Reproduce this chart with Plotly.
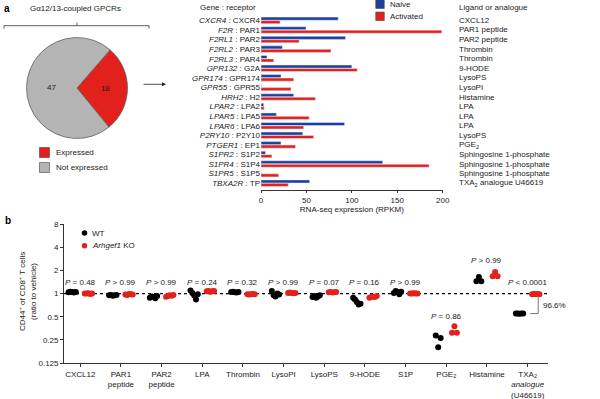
import numpy as np
import plotly.graph_objects as go

W, H = 600, 399
FONT = "Liberation Sans, Arial, sans-serif"
TXT = "#1a1a1a"
BLUE = "#1c3f9e"
RED = "#e3211c"
GREY = "#b4b4b4"

# ---------------- Panel a : pie ----------------
pie_labels = ["Expressed", "Not expressed"]
pie_values = [18, 47]

# ---------------- Panel a : bars ----------------
genes = ["CXCR4", "F2R", "F2RL1", "F2RL2", "F2RL3", "GPR132", "GPR174", "GPR55", "HRH2",
         "LPAR2", "LPAR5", "LPAR6", "P2RY10", "PTGER1", "S1PR2", "S1PR4", "S1PR5", "TBXA2R"]
receptors = ["CXCR4", "PAR1", "PAR2", "PAR3", "PAR4", "G2A", "GPR174", "GPR55", "H2",
             "LPA2", "LPA5", "LPA6", "P2Y10", "EP1", "S1P2", "S1P4", "S1P5", "TP"]
ligands = ["CXCL12", "PAR1 peptide", "PAR2 peptide", "Thrombin", "Thrombin", "9-HODE",
           "LysoPS", "LysoPI", "Histamine", "LPA", "LPA", "LPA", "LysoPS", "PGE<sub>2</sub>",
           "Sphingosine 1-phosphate", "Sphingosine 1-phosphate", "Sphingosine 1-phosphate",
           "TXA<sub>2</sub> analogue U46619"]
series_names = ["Naive", "Activated"]
naive = [85, 49.5, 93, 23.5, 6.6, 100, 22, 0.3, 36, 3, 17, 92, 46, 22, 5, 134, 0.3, 53.6]
activated = [21, 199, 42, 77, 14, 106, 36, 33, 60, 3.5, 53, 47, 58, 38, 12, 185, 19.5, 30]
bar_ticks = [0, 50, 100, 150, 200]

# ---------------- Panel b : dot plot ----------------
group_names = ["WT", "<i>Arhgef1</i> KO"]
b_cats = ["CXCL12", "PAR1<br>peptide", "PAR2<br>peptide", "LPA", "Thrombin", "LysoPI",
          "LysoPS", "9-HODE", "S1P", "PGE<sub>2</sub>", "Histamine",
          "TXA<sub>2</sub><br><i>analogue</i><br>(U46619)"]
p_text = ["= 0.48", "> 0.99", "> 0.99", "= 0.24", "= 0.32", "> 0.99", "= 0.07", "= 0.16",
          "> 0.99", "= 0.86", "> 0.99", "< 0.0001"]
p_pos = [1.41, 1.41, 1.41, 1.41, 1.41, 1.41, 1.41, 1.41, 1.41, 0.506, 2.72, 1.41]
wt_vals = [
    [1.04, 1.06, 1.05, 1.03, 1.05],
    [0.95, 0.96, 0.94, 0.95, 0.96],
    [0.88, 0.92, 0.90, 0.87, 0.93],
    [1.10, 1.02, 0.95, 0.84, 0.98],
    [1.05, 1.06, 1.04, 1.03, 1.05],
    [1.08, 0.95, 0.92, 1.00, 0.97],
    [0.90, 0.93, 0.88, 0.92, 0.95],
    [0.88, 0.84, 0.78, 0.72, 0.74],
    [1.02, 1.08, 1.05, 0.98, 1.06],
    [0.286, 0.20, 0.264],
    [1.45, 1.64, 1.45],
    [0.55, 0.55, 0.548, 0.55, 0.552],
]
ko_vals = [
    [1.00, 1.00, 1.01, 0.99, 1.00],
    [0.97, 0.96, 0.99, 0.98, 0.97],
    [0.91, 0.93, 0.95, 0.94, 0.96],
    [1.07, 1.08, 1.06, 1.07, 1.08],
    [0.98, 0.97, 0.98, 0.99, 0.98],
    [1.02, 1.03, 1.02, 1.01, 1.02],
    [1.04, 1.05, 1.03, 1.04, 1.05],
    [0.88, 0.90, 0.92, 0.90, 0.93],
    [1.00, 1.00, 1.01, 1.00, 1.00],
    [0.31, 0.375, 0.31],
    [1.68, 1.91, 1.68],
    [0.98, 0.99, 0.98, 0.99, 0.98],
]
diff_label = "96.6%"
y_ticks = [0.125, 0.25, 0.5, 1, 2, 4, 8]
y_tick_text = ["0.125", "0.25", "0.5", "1", "2", "4", "8"]


def px(x):
    return x / W


def py(y):
    return 1 - y / H


fig = go.Figure()

# pie
fig.add_trace(go.Pie(
    labels=pie_labels, values=pie_values, sort=False, direction="clockwise", rotation=41,
    marker=dict(colors=[RED, GREY], line=dict(color="#555555", width=0.7)),
    textinfo="value", textposition="inside", insidetextorientation="horizontal",
    textfont=dict(size=8, color=TXT, family=FONT),
    domain=dict(x=[px(26.5), px(127.5)], y=[py(138.5), py(37.5)]),
    showlegend=False, hoverinfo="skip",
))

# bars
ycat = ["<i>%s</i> : %s" % (g, r) for g, r in zip(genes, receptors)]
fig.add_trace(go.Bar(x=naive, y=ycat, orientation="h", name=series_names[0], marker_color=BLUE,
                     xaxis="x", yaxis="y", showlegend=False))
fig.add_trace(go.Bar(x=activated, y=ycat, orientation="h", name=series_names[1],
                     marker_color=RED, xaxis="x", yaxis="y", showlegend=False))

# reference line at ratio 1 (vehicle)
fig.add_trace(go.Scatter(x=[-0.4, 11.5], y=[1, 1], mode="lines",
                         line=dict(color="black", width=1.3, dash="dot"),
                         xaxis="x2", yaxis="y2", showlegend=False, hoverinfo="skip"))


# dot plot
def spread(n, centre):
    half = 0.09 if n > 3 else 0.06
    return list(np.linspace(centre - half, centre + half, n))


wx, wy, kx, ky = [], [], [], []
for i, (wv, kv) in enumerate(zip(wt_vals, ko_vals)):
    wx += [i + d for d in spread(len(wv), -0.2)]
    wy += wv
    kx += [i + d for d in spread(len(kv), 0.2)]
    ky += kv

fig.add_trace(go.Scatter(x=wx, y=wy, mode="markers", name=group_names[0],
                         marker=dict(color="black", size=6), xaxis="x2", yaxis="y2",
                         showlegend=False))
fig.add_trace(go.Scatter(x=kx, y=ky, mode="markers", name=group_names[1],
                         marker=dict(color=RED, size=6), xaxis="x2", yaxis="y2",
                         showlegend=False))
# bracket for the TXA2 difference
last = len(b_cats) - 1
wt_last = float(np.mean(wt_vals[last]))
fig.add_trace(go.Scatter(x=[last + 0.26, last + 0.26, last + 0.06],
                         y=[0.9, wt_last, wt_last],
                         mode="lines", line=dict(color="#777777", width=1),
                         xaxis="x2", yaxis="y2", showlegend=False, hoverinfo="skip"))

annotations = []
base = dict(showarrow=False, font=dict(family=FONT, size=8, color=TXT))
# ligand labels
for cat, lig in zip(ycat, ligands):
    annotations.append(dict(base, x=px(457), xref="paper", y=cat, yref="y", text=lig,
                            xanchor="left", yanchor="middle"))
# p-values
for i, (t, yv) in enumerate(zip(p_text, p_pos)):
    annotations.append(dict(base, x=i, xref="x2", y=np.log10(yv), yref="y2",
                            text="<i>P</i> " + t, xanchor="center", yanchor="middle"))
annotations.append(dict(base, x=last + 0.32, xref="x2", y=np.log10(0.69), yref="y2",
                        text=diff_label, xanchor="left", yanchor="middle"))
# titles / panel labels
annotations += [
    dict(base, x=px(2), y=py(8), xref="paper", yref="paper", text="<b>a</b>",
         xanchor="left", yanchor="middle", font=dict(family=FONT, size=10, color="black")),
    dict(base, x=px(3), y=py(220), xref="paper", yref="paper", text="<b>b</b>",
         xanchor="left", yanchor="middle", font=dict(family=FONT, size=10, color="black")),
    dict(base, x=px(75), y=py(9), xref="paper", yref="paper", text="Gα12/13-coupled GPCRs",
         xanchor="center", yanchor="middle"),
    dict(base, x=px(197.5), y=py(7.3), xref="paper", yref="paper", text="Gene : receptor",
         xanchor="left", yanchor="middle"),
    dict(base, x=px(457), y=py(7.3), xref="paper", yref="paper", text="Ligand or analogue",
         xanchor="left", yanchor="middle"),
    dict(base, x=px(27), y=py(292), xref="paper", yref="paper",
         text="CD44<sup>+</sup> of CD8<sup>+</sup> T cells<br>(ratio to vehicle)",
         textangle=-90, xanchor="center", yanchor="middle"),
    dict(x=px(166), y=py(84.3), xref="paper", yref="paper", ax=-24, ay=0, text="",
         showarrow=True, arrowhead=2, arrowsize=1, arrowwidth=0.8, arrowcolor="#222222"),
]

# bracket above the pie
bx0, bx1, bxm, by, byd, byu = px(4), px(149), px(77), py(25.7), py(28.6), py(22.6)
shapes = [
    dict(type="path", xref="paper", yref="paper",
         path=f"M {bx0},{byd} L {bx0},{by} L {bx1},{by} L {bx1},{byd} M {bxm},{by} L {bxm},{byu}",
         line=dict(color="#333333", width=0.8)),
]


# legends (keys)
def square_key(cx, cy, size, colour, label):
    h = size / 2
    shapes.append(dict(type="rect", xref="paper", yref="paper",
                       x0=px(cx - h), x1=px(cx + h), y0=py(cy + h), y1=py(cy - h),
                       fillcolor=colour, line=dict(color="#444444", width=0.6)))
    annotations.append(dict(base, x=px(cx + h + 4), y=py(cy), xref="paper", yref="paper",
                            text=label, xanchor="left", yanchor="middle"))


def dot_key(cx, cy, d, colour, label):
    h = d / 2
    shapes.append(dict(type="circle", xref="paper", yref="paper",
                       x0=px(cx - h), x1=px(cx + h), y0=py(cy + h), y1=py(cy - h),
                       fillcolor=colour, line=dict(width=0)))
    annotations.append(dict(base, x=px(cx + h + 2.5), y=py(cy), xref="paper", yref="paper",
                            text=label, xanchor="left", yanchor="middle"))


square_key(44.5, 152.5, 10, RED, pie_labels[0])
square_key(44.5, 167.5, 10, GREY, pie_labels[1])
square_key(380, 4.2, 8.5, BLUE, series_names[0])
square_key(380, 16.3, 8.5, RED, series_names[1])
dot_key(84.5, 233, 5.5, "black", group_names[0])
dot_key(84.5, 245.7, 5.5, RED, group_names[1])

axis_common = dict(showgrid=False, zeroline=False, color=TXT, automargin=False,
                   ticklabeloverflow="allow",
                   tickfont=dict(family=FONT, size=8, color=TXT))

fig.update_layout(
    width=W, height=H, margin=dict(l=0, r=0, t=0, b=0),
    paper_bgcolor="white", plot_bgcolor="white", showlegend=False,
    font=dict(family=FONT, size=8, color=TXT),
    barmode="group", bargap=0.28, bargroupgap=0.1,
    xaxis=dict(axis_common, domain=[px(261), px(442.7)], range=[0, 200], tickvals=bar_ticks,
               showline=True, linecolor="#333333", linewidth=0.8, ticks="outside", ticklen=2,
               tickcolor="#333333", anchor="y",
               title=dict(text="RNA-seq expression (RPKM)", font=dict(size=8), standoff=2)),
    yaxis=dict(axis_common, domain=[py(190.2), py(13.9)], autorange="reversed",
               showline=False, ticks="", anchor="x", type="category",
               tickmode="array", tickvals=ycat, ticktext=ycat),
    xaxis2=dict(axis_common, domain=[px(64), px(548)], range=[-0.4, 11.5],
                tickvals=list(range(len(b_cats))), ticktext=b_cats, showline=True,
                linecolor="#333333", linewidth=0.8, ticks="outside", ticklen=3,
                tickcolor="#333333", anchor="y2"),
    yaxis2=dict(axis_common, domain=[py(363.2), py(224.0)], type="log",
                range=[np.log10(0.125) - 0.002, np.log10(8) + 0.002],
                tickmode="array", tickvals=y_ticks, ticktext=y_tick_text,
                showline=True, linecolor="#333333", linewidth=0.8, ticks="outside", ticklen=3,
                tickcolor="#333333", anchor="x2"),
    annotations=annotations, shapes=shapes,
)

fig.write_html(
    "out.html",
    config={"displayModeBar": False},
    post_script="document.body.style.margin='0';document.body.style.overflow='hidden';",
)
